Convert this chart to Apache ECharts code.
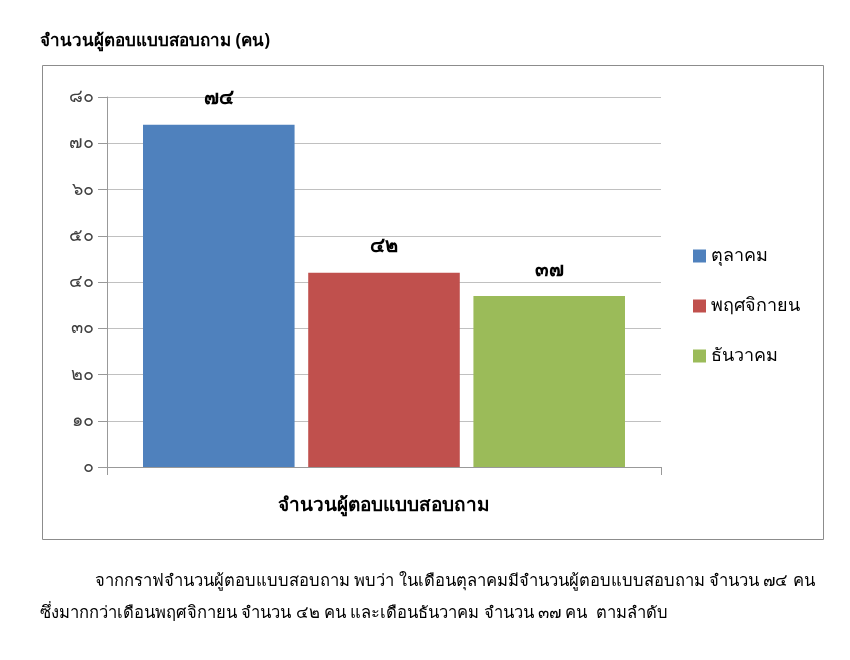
<!DOCTYPE html>
<html>
<head>
<meta charset="utf-8">
<script src="https://cdn.jsdelivr.net/npm/echarts@6/dist/echarts.min.js"></script>
<style>
  html, body { margin: 0; padding: 0; background: #fff; }
  #main { width: 850px; height: 660px; }
</style>
</head>
<body>
<div id="main"></div>
<script>
// data
var categories = ['จำนวนผู้ตอบแบบสอบถาม'];
var months = ['ตุลาคม', 'พฤศจิกายน', 'ธันวาคม'];
var counts = [74, 42, 37];
var colors = ['#4f81bd', '#c0504d', '#9bbb59'];
var yTicks = { min: 0, max: 80, interval: 10 };
var titleText = 'จำนวนผู้ตอบแบบสอบถาม (คน)';
var noteLines = [
  'จากกราฟจำนวนผู้ตอบแบบสอบถาม พบว่า ในเดือนตุลาคมมีจำนวนผู้ตอบแบบสอบถาม จำนวน ๗๔ คน',
  'ซึ่งมากกว่าเดือนพฤศจิกายน จำนวน ๔๒ คน และเดือนธันวาคม จำนวน ๓๗ คน  ตามลำดับ'
];

var thaiDigits = '๐๑๒๓๔๕๖๗๘๙';
function toThai(n) {
  return String(n).replace(/[0-9]/g, function (d) { return thaiDigits[+d]; });
}

var font = 'Tahoma, "Noto Sans", sans-serif';
var chart = echarts.init(document.getElementById('main'));

var series = months.map(function (m, i) {
  return {
    name: m,
    type: 'bar',
    data: [counts[i]],
    barGap: '9%',
    barCategoryGap: '13%',
    itemStyle: { color: colors[i] },
    label: {
      show: true,
      position: 'top',
      distance: 16,
      color: '#000',
      fontSize: 20,
      fontWeight: 'bold',
      fontFamily: font,
      formatter: function (p) { return toThai(p.value); }
    }
  };
});

var option = {
  animation: false,
  textStyle: { fontFamily: font },
  title: {
    text: titleText,
    left: 35,
    top: 28,
    textStyle: { fontSize: 17, fontWeight: 'bold', color: '#000', fontFamily: font }
  },
  legend: {
    orient: 'vertical',
    left: 688,
    top: 242,
    itemWidth: 13,
    itemHeight: 13,
    itemGap: 32,
    icon: 'rect',
    textStyle: { fontSize: 18, color: '#000', fontFamily: font },
    data: months
  },
  grid: { left: 107, right: 189, top: 97, bottom: 193 },
  xAxis: {
    type: 'category',
    data: categories,
    axisLine: { lineStyle: { color: '#999' } },
    axisTick: { show: true, length: 8, lineStyle: { color: '#999' } },
    axisLabel: { margin: 29, fontSize: 19, fontWeight: 'bold', color: '#000', fontFamily: font }
  },
  yAxis: {
    type: 'value',
    min: yTicks.min,
    max: yTicks.max,
    interval: yTicks.interval,
    axisLine: { show: true, lineStyle: { color: '#999' } },
    axisTick: { show: true, length: 9, lineStyle: { color: '#999' } },
    splitLine: { lineStyle: { color: '#c0c0c0' } },
    axisLabel: {
      margin: 13,
      fontSize: 18,
      color: '#404040',
      fontFamily: font,
      formatter: function (v) { return toThai(v); }
    }
  },
  graphic: [
    {
      type: 'rect',
      shape: { x: 42.5, y: 65.5, width: 781, height: 474 },
      style: { fill: 'none', stroke: '#8c8c8c', lineWidth: 1 },
      z: -1
    },
    {
      type: 'text',
      left: 95,
      top: 573,
      style: { text: noteLines[0], font: '16.6px ' + font, fill: '#000' }
    },
    {
      type: 'text',
      left: 40,
      top: 605,
      style: { text: noteLines[1], font: '16.6px ' + font, fill: '#000' }
    }
  ],
  series: series
};

chart.setOption(option);
</script>
</body>
</html>
